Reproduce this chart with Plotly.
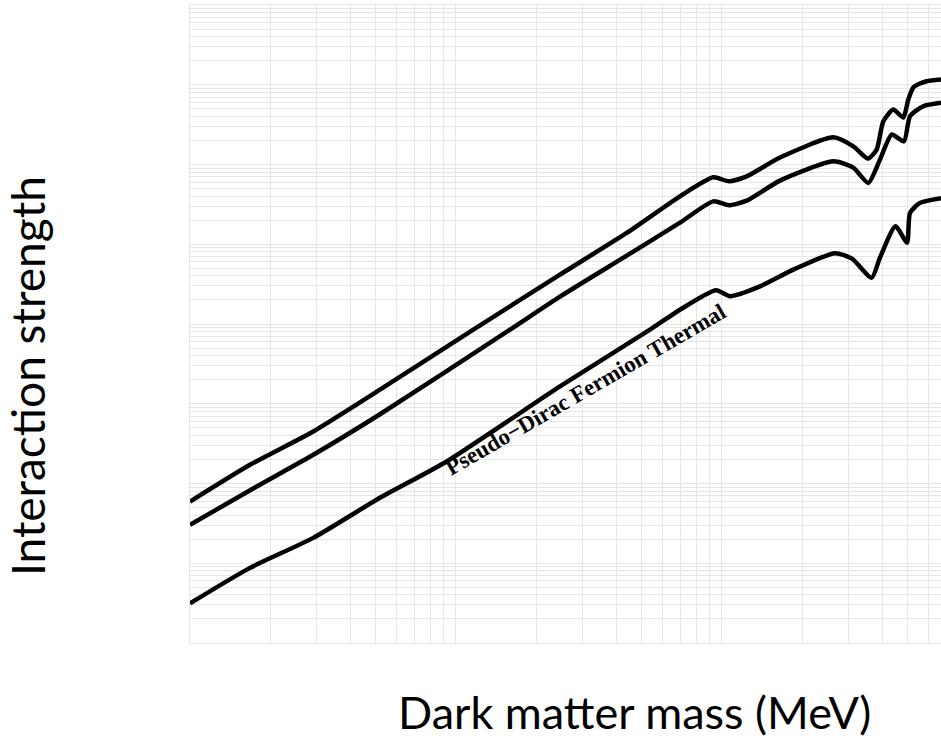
import math
import plotly.graph_objects as go

# ---- data ----
mass_upper = [1.00, 1.681, 2.908, 5.179, 11.62, 24.60, 43.83, 69.53, 92.75, 106.2,
              123.8, 165.2, 262.0, 311.7, 353.9, 381.5, 404.0, 440.6, 480.4, 501.7,
              523.9, 555.2, 588.3, 665.9]
strength_upper = [5.94e-13, 1.717e-12, 4.49e-12, 1.50e-11, 8.49e-11, 4.16e-10, 1.387e-9,
                  3.99e-9, 6.90e-9, 6.15e-9, 7.11e-9, 1.222e-8, 2.19e-8, 1.69e-8,
                  1.186e-8, 1.538e-8, 3.45e-8, 4.89e-8, 3.88e-8, 6.52e-8, 9.23e-8,
                  1.035e-7, 1.107e-7, 1.162e-7]

mass_middle = [1.00, 1.781, 2.908, 5.179, 15.96, 24.60, 43.83, 69.53, 92.75, 106.2,
               123.8, 165.2, 262.0, 311.7, 354.8, 392.6, 434.5, 483.3, 509.1, 571.3,
               665.9]
strength_middle = [3.03e-13, 9.17e-13, 2.29e-12, 7.38e-12, 8.49e-11, 2.20e-10, 7.19e-10,
                   1.867e-9, 3.45e-9, 3.08e-9, 3.52e-9, 6.28e-9, 1.096e-8, 9.14e-9,
                   5.87e-9, 1.151e-8, 2.37e-8, 1.954e-8, 4.03e-8, 5.37e-8, 5.93e-8]

mass_pseudo_dirac = [1.00, 1.681, 2.908, 5.179, 9.226, 24.60, 53.62, 69.53, 94.93, 107.2,
                     139.0, 185.4, 265.9, 308.2, 365.4, 392.6, 449.1, 496.1, 509.1,
                     555.2, 665.9]
strength_pseudo_dirac = [3.14e-14, 8.75e-14, 2.08e-13, 6.62e-13, 1.888e-12, 1.648e-11,
                         8.49e-11, 1.511e-10, 2.65e-10, 2.23e-10, 2.96e-10, 4.80e-10,
                         7.73e-10, 6.59e-10, 3.81e-10, 6.79e-10, 1.679e-9, 1.047e-9,
                         2.47e-9, 3.30e-9, 3.79e-9]

mass_range = [1.0, 665.9]
strength_range = [1e-14, 1e-6]

label_text = "Pseudo\u2212Dirac Fermion Thermal"
label_mass = 30.8
label_strength = 1.5e-11

x_title = "Dark matter mass (MeV)"
y_title = "Interaction strength"

# ---- figure ----
W, H = 941, 742
ml, mr, mt, mb = 190, 0, 5, 99
pw, ph = W - ml - mr, H - mt - mb

fig = go.Figure()
line_style = dict(color="black", width=4.5, shape="spline", smoothing=0.6)
for xs, ys in [(mass_upper, strength_upper),
               (mass_middle, strength_middle),
               (mass_pseudo_dirac, strength_pseudo_dirac)]:
    fig.add_trace(go.Scatter(x=xs, y=ys, mode="lines", line=line_style,
                             showlegend=False, hoverinfo="skip"))

grid = "#E6E6E6"
fig.update_xaxes(type="log", range=[math.log10(v) for v in mass_range],
                 dtick="D1", showticklabels=False, ticks="",
                 showgrid=True, gridcolor=grid, gridwidth=1,
                 showline=True, linecolor=grid, linewidth=1, mirror=True,
                 zeroline=False)
fig.update_yaxes(type="log", range=[math.log10(v) for v in strength_range],
                 dtick="D1", showticklabels=False, ticks="",
                 showgrid=True, gridcolor=grid, gridwidth=1,
                 showline=True, linecolor=grid, linewidth=1, mirror=False,
                 zeroline=False)

fig.add_annotation(x=math.log10(label_mass), y=math.log10(label_strength),
                   xref="x", yref="y", text="<b>" + label_text + "</b>",
                   textangle=-30, showarrow=False,
                   font=dict(family="Liberation Serif", size=23, color="black"))

# axis titles placed as paper annotations (the reference is cropped on the right)
fig.add_annotation(x=(396 - ml) / pw, y=(H - mb - 712) / ph,
                   xref="paper", yref="paper", text=x_title,
                   showarrow=False, xanchor="left", yanchor="middle",
                   font=dict(family="Lato", size=45, color="black"))
fig.add_annotation(x=(27 - ml) / pw, y=(H - mb - 376) / ph,
                   xref="paper", yref="paper", text=y_title,
                   textangle=-90, showarrow=False, xanchor="center", yanchor="middle",
                   font=dict(family="Lato", size=46, color="black"))

fig.update_layout(width=W, height=H, margin=dict(l=ml, r=mr, t=mt, b=mb),
                  paper_bgcolor="white", plot_bgcolor="white")

fig.write_html("out.html", config={"displayModeBar": False},
               post_script="document.body.style.margin='0px';")
